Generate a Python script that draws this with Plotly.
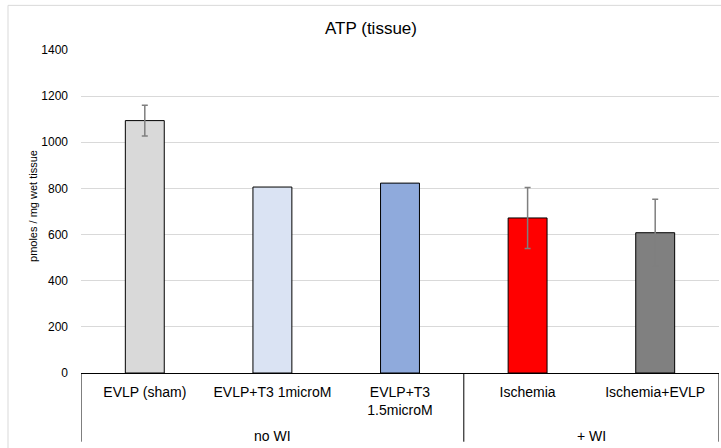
import plotly.graph_objects as go

categories = ["EVLP (sham)", "EVLP+T3 1microM", "EVLP+T3<br>1.5microM", "Ischemia", "Ischemia+EVLP"]
values = [1094, 806, 823, 672, 608]
errors = [67, None, None, 132, 145]
bar_colors = ["#D9D9D9", "#DAE3F3", "#8FAADC", "#FF0000", "#808080"]
groups = ["no WI", "+ WI"]
group_centers = [1, 3.5]
dividers = [-0.5, 2.5, 4.5]
y_ticks = [0, 200, 400, 600, 800, 1000, 1200, 1400]

FONT = "Liberation Sans, Arial, sans-serif"

fig = go.Figure()
idx = list(range(len(categories)))
# bars
fig.add_trace(go.Bar(
    x=idx, y=values,
    marker=dict(color=bar_colors, line=dict(color="#000000", width=1)),
    width=0.305,
))
# error bars only where present
err_x = [i for i in idx if errors[i] is not None]
fig.add_trace(go.Scatter(
    x=err_x, y=[values[i] for i in err_x], mode="markers",
    marker=dict(size=0.1, color="rgba(0,0,0,0)"),
    error_y=dict(type="data", array=[errors[i] for i in err_x], visible=True,
                 color="#7F7F7F", thickness=1.5, width=3),
    hoverinfo="skip",
))

shapes = []
shapes.append(dict(type="rect", xref="paper", yref="paper",
                   x0=-73/638, x1=1.05, y0=-0.4, y1=(372.5-6)/322,
                   line=dict(color="#D9D9D9", width=1), layer="below"))
for d in dividers:
    shapes.append(dict(type="line", xref="x", yref="paper", x0=d, x1=d,
                       y0=0, y1=-(441-372.5)/322, line=dict(color="#000000", width=1)))

annotations = []
for g, c in zip(groups, group_centers):
    annotations.append(dict(text=g, x=c, xref="x", y=-(435-372.5)/322, yref="paper",
                            showarrow=False, yanchor="middle",
                            font=dict(family=FONT, size=14, color="#000000")))
annotations.append(dict(text="pmoles / mg wet tissue", x=(33-81)/638, xref="paper",
                        xanchor="center", yanchor="middle",
                        y=(372.5-206)/322, yref="paper", showarrow=False, textangle=-90,
                        font=dict(family=FONT, size=11, color="#000000")))

fig.update_layout(
    width=721, height=448,
    margin=dict(l=81, r=2, t=50, b=75),
    paper_bgcolor="white", plot_bgcolor="white",
    showlegend=False, barmode="overlay",
    title=dict(text="ATP (tissue)", x=371/721, xref="container", xanchor="center",
               y=1-28/448, yref="container", yanchor="middle",
               font=dict(family=FONT, size=17, color="#000000")),
    shapes=shapes, annotations=annotations,
    xaxis=dict(tickmode="array", tickvals=idx, ticktext=categories,
               range=[-0.5, 4.5], showline=True, linecolor="#000000", linewidth=1,
               showgrid=False, ticks="", zeroline=False, ticklabelstandoff=6,
               tickfont=dict(family=FONT, size=14, color="#000000")),
    yaxis=dict(range=[0, 1400], tickvals=y_ticks, showgrid=True, gridcolor="#D9D9D9",
               gridwidth=1, zeroline=False, showline=False, ticks="",
               ticklabelstandoff=12,
               tickfont=dict(family=FONT, size=12, color="#000000")),
)

fig.write_html("out.html")
